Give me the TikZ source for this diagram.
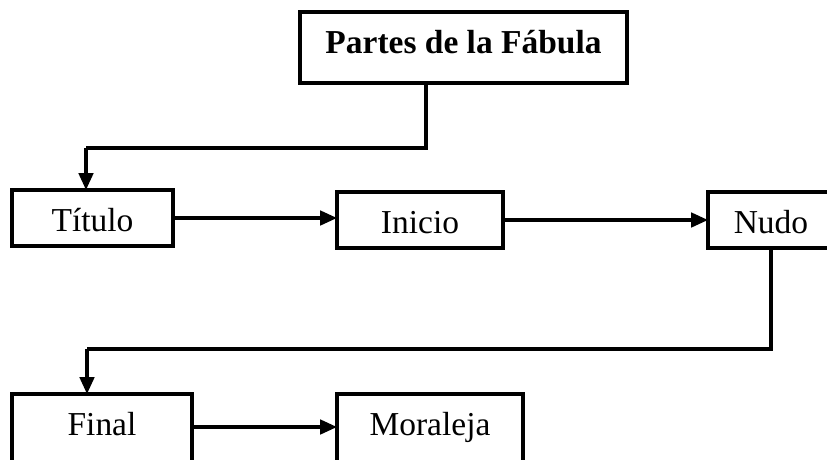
\documentclass[tikz,border=0pt]{standalone}
\usepackage{fontspec}
\setmainfont{Liberation Serif}
\newcommand*{\fabulafont}{\fontsize{23.8pt}{28pt}\selectfont}
\usepackage{tikz}
\usetikzlibrary{arrows.meta}
\usetikzlibrary{positioning}
\tikzstyle{part}=[draw, line width=0.09cm, inner sep=0pt, outer sep=0pt, anchor=north west, text height=1.025cm, text depth=0.375cm]
\tikzstyle{lowpart}=[part, text depth=1cm]
\tikzstyle{link}=[line width=0.08cm, -{Triangle[length=0.42cm, width=0.36cm]}]

\begin{document}
\begin{tikzpicture}
    \fabulafont
        \useasboundingbox (0,0) rectangle (20.675,11.475);
        \node [part, minimum width=8.175cm, text depth=0.75cm] (fabula) at (7.5,11.175) {\textbf{Partes de la Fábula}};
        \node [part, minimum width=4.025cm] (titulo) at (0.3,6.725) {Título};
        \node [part, minimum width=4.15cm] (inicio) at (8.425,6.675) {Inicio};
        \node [part, minimum width=3.15cm] (nudo) at (17.7,6.675) {Nudo};
        \node [lowpart, minimum width=4.5cm] (final) at (0.3,1.625) {Final};
        \node [lowpart, minimum width=4.65cm] (moraleja) at (8.425,1.625) {Moraleja};
        \coordinate (bendA) at (2.15,7.775);
        \coordinate (bendB) at (2.175,2.75);
        \draw [link, -] ([xshift=-0.94cm]fabula.south) |- (bendA);
        \draw [link] (bendA) -- (bendA |- titulo.north);
        \draw [link] (titulo.east) -- (titulo.east -| inicio.west);
        \draw [link] (inicio.east) -- (nudo.west);
        \draw [link, -] (nudo.south) |- (bendB);
        \draw [link] (bendB) -- (bendB |- final.north);
        \draw [link] ([yshift=2mm]final.base east) -- ([yshift=2mm]final.base east -| moraleja.west);
    \end{tikzpicture}
\end{document}
